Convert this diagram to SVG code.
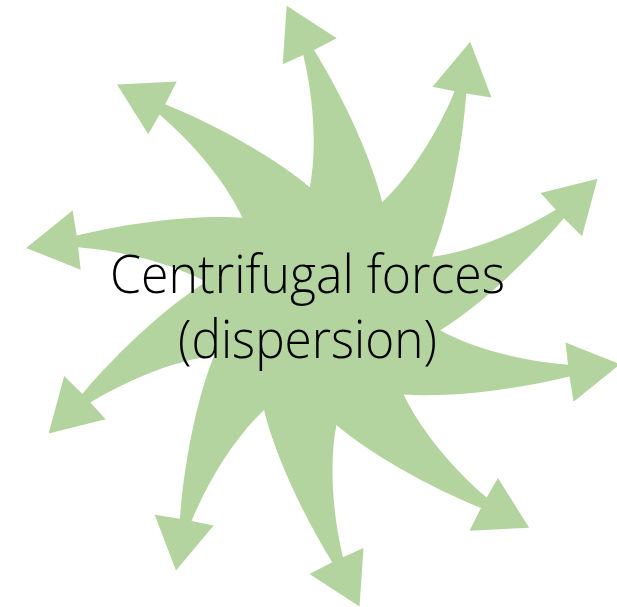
<svg xmlns="http://www.w3.org/2000/svg" xmlns:xlink="http://www.w3.org/1999/xlink" width="617" height="607" viewBox="0 0 617 607">
<style>
.arm{fill:#B3D49E;stroke:none}
.lbl{font-family:"Open Sans","Noto Sans","Liberation Sans",sans-serif;font-size:53px;font-weight:300;fill:#000;text-anchor:middle}
</style>
<defs>
<path id="armShape" class="arm" d="M323.1,306.1 L309.8,187.3 C317,150 314,100 303.3,55 L282.7,64.3 L286.7,5.7 L336.7,38.3 L314,50 C345,100 372,160 382.2,202.2 Z"/>
</defs>
<rect width="617" height="607" fill="#fff"/>
<g id="pinwheel">
<g id="arm-1"><use xlink:href="#armShape" href="#armShape"/></g>
<g id="arm-2"><use xlink:href="#armShape" href="#armShape" transform="rotate(36 323.1 306.1)"/></g>
<g id="arm-3"><use xlink:href="#armShape" href="#armShape" transform="rotate(72 323.1 306.1)"/></g>
<g id="arm-4"><use xlink:href="#armShape" href="#armShape" transform="rotate(108 323.1 306.1)"/></g>
<g id="arm-5"><use xlink:href="#armShape" href="#armShape" transform="rotate(144 323.1 306.1)"/></g>
<g id="arm-6"><use xlink:href="#armShape" href="#armShape" transform="rotate(180 323.1 306.1)"/></g>
<g id="arm-7"><use xlink:href="#armShape" href="#armShape" transform="rotate(216 323.1 306.1)"/></g>
<g id="arm-8"><use xlink:href="#armShape" href="#armShape" transform="rotate(252 323.1 306.1)"/></g>
<g id="arm-9"><use xlink:href="#armShape" href="#armShape" transform="rotate(288 323.1 306.1)"/></g>
<g id="arm-10"><use xlink:href="#armShape" href="#armShape" transform="rotate(324 323.1 306.1)"/></g>
<g id="hub"><polygon class="arm" points="309.8,187.3 382.2,202.2 432.0,256.7 440.2,330.2 403.7,394.4 336.4,424.9 264.0,410.0 214.2,355.5 206.0,282.1 242.5,217.8"/></g>
</g>
<g id="label">
<text class="lbl" x="307.5" y="292.5" textLength="395" lengthAdjust="spacingAndGlyphs">Centrifugal forces</text>
<text class="lbl" x="307.5" y="357.5" textLength="259" lengthAdjust="spacingAndGlyphs">(dispersion)</text>
</g>
</svg>
